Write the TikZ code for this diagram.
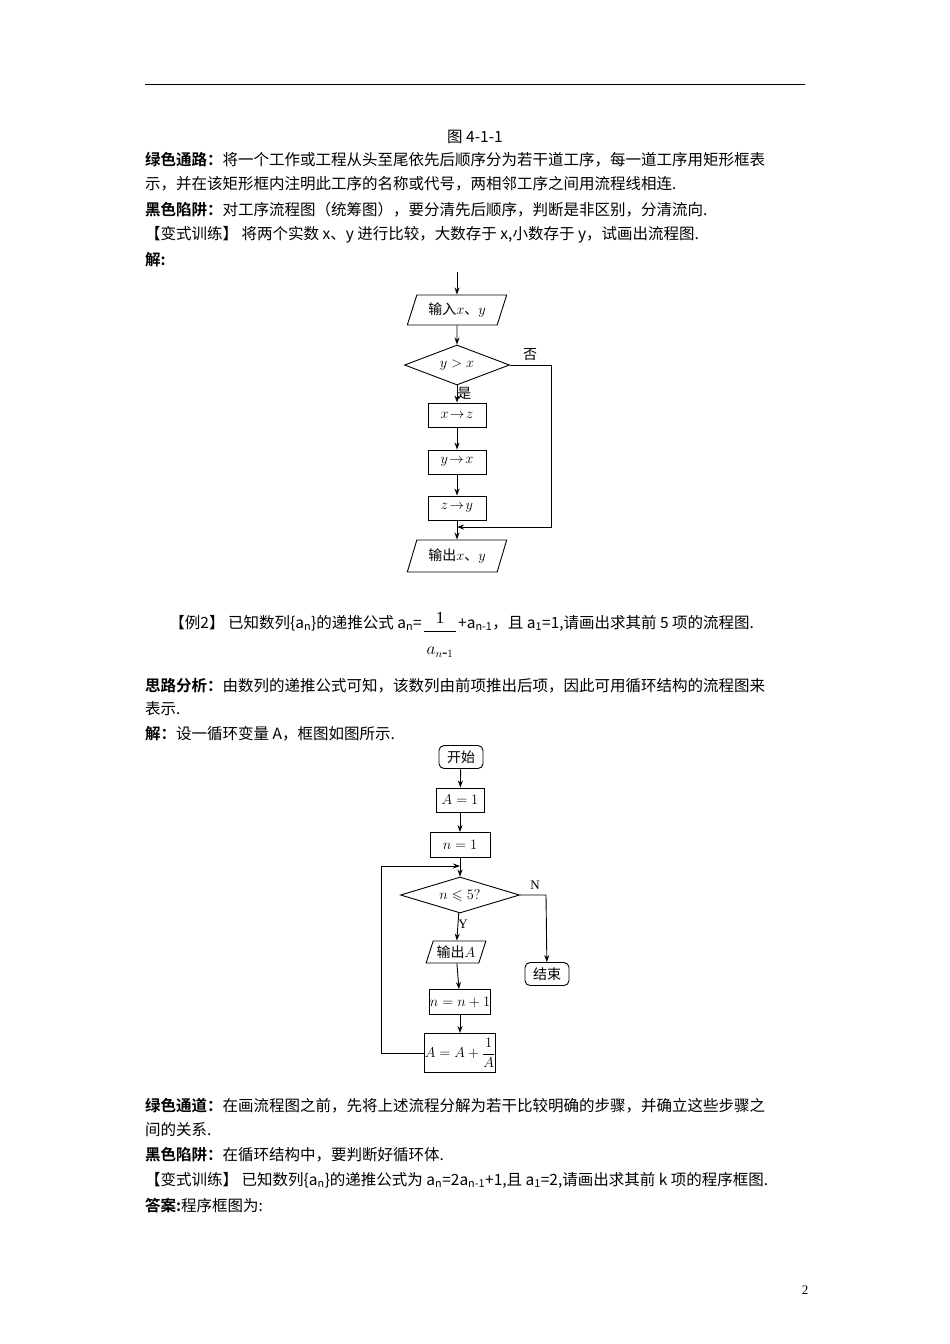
\documentclass[tikz,border=0pt]{standalone}
\usepackage{fontspec}
\usepackage{amssymb}
\usetikzlibrary{shapes.geometric,arrows.meta}
\setmainfont{Liberation Serif}
\newfontfamily\cjk{Noto Sans CJK SC}
\newfontfamily\cjkb{Noto Sans CJK SC Bold}
\begin{document}
\begin{tikzpicture}[x=1pt,y=-1pt,
  txt/.style={anchor=west,inner sep=0,font=\fontsize{15.5}{18}\selectfont\cjk},
  fc/.style={font=\fontsize{14}{16}\selectfont\cjk,inner sep=0},
  proc/.style={fc,draw,line width=0.9pt,minimum height=24pt},
  io/.style={fc,draw,line width=0.9pt,trapezium,trapezium left angle=65,trapezium right angle=115,minimum height=30pt,trapezium stretches=true},
  dec/.style={fc,draw,line width=0.9pt,diamond,aspect=2.6,inner sep=1pt},
  term/.style={fc,draw,line width=0.9pt,rounded corners=5pt,minimum height=23pt,minimum width=44pt},
  ar/.style={-{Stealth[length=7pt,width=5pt]},line width=0.9pt},
  ln/.style={line width=0.9pt}]
\useasboundingbox (0,0) rectangle (950,1344);
\draw[line width=0.8pt] (145,84) -- (805,84);
\node[fc,font=\fontsize{15.5}{18}\selectfont\cjk] (cap) at (475,137) {图 4-1-1};
\node[txt] (t1) at (145,160) {{\cjkb 绿色通路：}将一个工作或工程从头至尾依先后顺序分为若干道工序，每一道工序用矩形框表};
\node[txt] (t2) at (145,184) {示，并在该矩形框内注明此工序的名称或代号，两相邻工序之间用流程线相连.};
\node[txt] (t3) at (145,210) {{\cjkb 黑色陷阱：}对工序流程图（统筹图），要分清先后顺序，判断是非区别，分清流向.};
\node[txt] (t4) at (145,235) {【变式训练】 将两个实数 x、y 进行比较，大数存于 x,小数存于 y，试画出流程图.};
\node[txt] (t5) at (145,260) {{\cjkb 解:}};
% flowchart 1
\coordinate (s1) at (457,272);
\node[io,minimum width=100pt] (in) at (457,310) {输入$x$、$y$};
\node[dec,minimum width=105pt,minimum height=40pt] (d1) at (457,365) {$y>x$};
\node[proc,minimum width=58pt] (p1) at (457,415) {$x\!\rightarrow\! z$};
\node[proc,minimum width=58pt] (p2) at (457,462) {$y\!\rightarrow\! x$};
\node[proc,minimum width=58pt] (p3) at (457,508) {$z\!\rightarrow\! y$};
\node[io,minimum width=100pt,minimum height=32pt] (out) at (457,556) {输出$x$、$y$};
\coordinate (j1) at (457,527);
\coordinate (r1) at (551,365);
\coordinate (r2) at (551,527);
\draw[ar] (s1) -- (in);
\draw[ar] (in) -- (d1);
\draw[ar] (d1) -- node[fc,right,pos=0.45] (yes1) {是} (p1);
\draw[ar] (p1) -- (p2);
\draw[ar] (p2) -- (p3);
\draw[ar] (p3) -- (out);
\draw[ar] (d1.east) -- (r1) -- (r2) -- (j1);
\node[fc] (no1) at (530,355) {否};
% example 2
\node[txt,anchor=east] (e1) at (422,623) {【例2】 已知数列\{a\textsubscript{n}\}的递推公式 a\textsubscript{n}=};
\node[inner sep=0,font=\fontsize{17}{18}\selectfont] (one) at (440,618) {1};
\coordinate (fb1) at (424,631); \coordinate (fb2) at (456,631);
\draw[line width=0.8pt] (fb1) -- (fb2);
\node[inner sep=0,font=\fontsize{16}{18}\selectfont] (den) at (440,652) {$a_{n\mbox{-}1}$};
\node[txt] (e2) at (458,623) {+a\textsubscript{n-1}，且 a\textsubscript{1}=1,请画出求其前 5 项的流程图.};
\node[txt] (t6) at (145,686) {{\cjkb 思路分析：}由数列的递推公式可知，该数列由前项推出后项，因此可用循环结构的流程图来};
\node[txt] (t7) at (145,709) {表示.};
\node[txt] (t8) at (145,734) {{\cjkb 解：}设一循环变量 A，框图如图所示.};
% flowchart 2
\node[term] (st) at (461,757) {开始};
\node[proc,minimum width=48pt] (a1) at (460,800) {$A=1$};
\node[proc,minimum width=60pt,minimum height=25pt] (n1) at (460,845) {$n=1$};
\coordinate (lp) at (460,866);
\node[dec,minimum width=119pt,minimum height=36pt] (d2) at (460,895) {$n\leqslant 5?$};
\node[io,minimum width=60pt,minimum height=22pt] (oa) at (456,952) {输出$A$};
\node[term] (end) at (547,974) {结束};
\node[proc,minimum width=60pt,minimum height=25pt] (n2) at (460,1002) {$n=n+1$};
\node[proc,minimum width=60pt,minimum height=39pt] (a2) at (460,1053) {$\displaystyle A=A+\frac{1}{A}$};
\coordinate (l1) at (381,1053);
\coordinate (l2) at (381,866);
\coordinate (r3) at (546,895);
\draw[ar] (st) -- (a1);
\draw[ar] (a1) -- (n1);
\draw[ln] (n1) -- (lp);
\draw[ar] (lp) -- (d2);
\draw[ar] (d2) -- node[fc,right,pos=0.4,font=\fontsize{13}{14}\selectfont] (ylab) {Y} (oa);
\draw[ar] (oa) -- (n2);
\draw[ar] (n2) -- (a2);
\draw[ar] (a2.west) -- (l1) -- (l2) -- (lp);
\draw[ar] (d2.east) -- (r3) -- (end);
\node[fc,font=\fontsize{13}{14}\selectfont] (nlab) at (535,885) {N};
% text after
\node[txt] (t9) at (145,1106) {{\cjkb 绿色通道：}在画流程图之前，先将上述流程分解为若干比较明确的步骤，并确立这些步骤之};
\node[txt] (t10) at (145,1130) {间的关系.};
\node[txt] (t11) at (145,1155) {{\cjkb 黑色陷阱：}在循环结构中，要判断好循环体.};
\node[txt] (t12) at (145,1180) {【变式训练】 已知数列\{a\textsubscript{n}\}的递推公式为 a\textsubscript{n}=2a\textsubscript{n-1}+1,且 a\textsubscript{1}=2,请画出求其前 k 项的程序框图.};
\node[txt] (t13) at (145,1206) {{\cjkb 答案:}程序框图为:};
\node[inner sep=0,font=\fontsize{13}{14}\selectfont] (pg) at (805,1290) {2};
\end{tikzpicture}
\end{document}
